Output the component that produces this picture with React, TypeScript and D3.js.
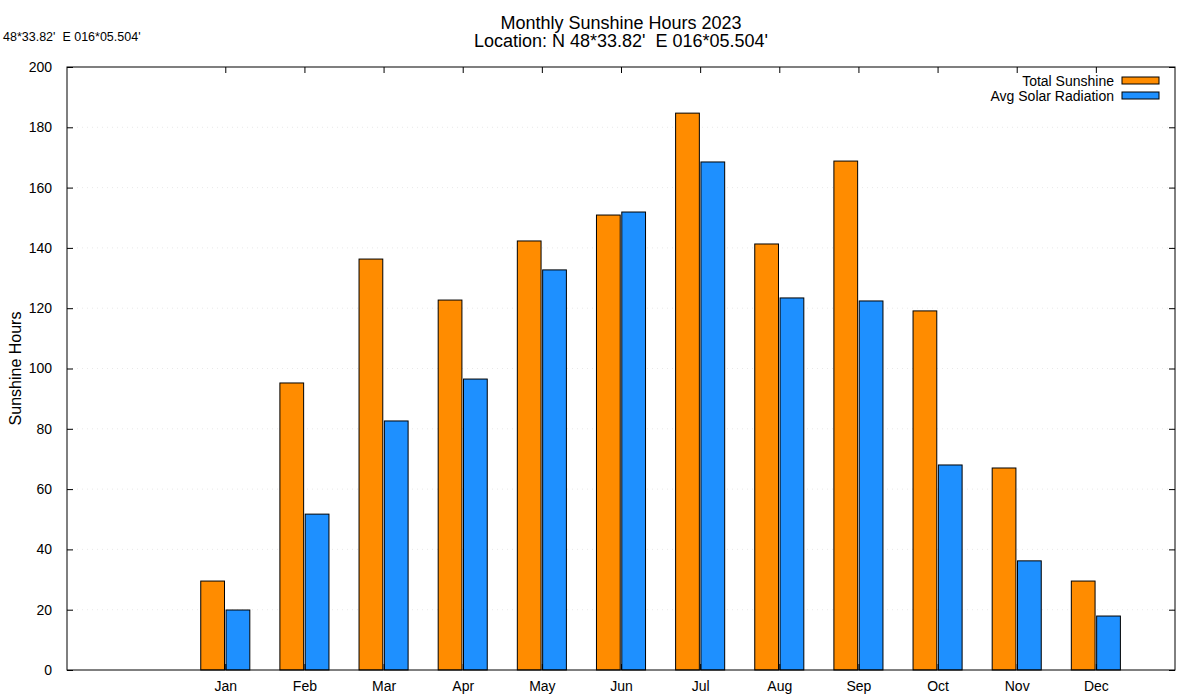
import { useEffect, useRef } from "react"
import * as d3 from "d3"

const months = ["Jan", "Feb", "Mar", "Apr", "May", "Jun", "Jul", "Aug", "Sep", "Oct", "Nov", "Dec"]
const totalSunshine = [29.5, 95.2, 136.3, 122.7, 142.3, 150.9, 184.7, 141.3, 168.8, 119.1, 67.0, 29.5]
const avgSolarRadiation = [19.9, 51.7, 82.6, 96.5, 132.7, 151.9, 168.5, 123.4, 122.4, 68.0, 36.2, 17.9]
const yTicks = [0, 20, 40, 60, 80, 100, 120, 140, 160, 180, 200]

const seriesNames = ["Total Sunshine", "Avg Solar Radiation"]
const seriesColors = ["#ff8c00", "#1e90ff"]

export default function App() {
  const svgRef = useRef<SVGSVGElement>(null)

  useEffect(() => {
    if (!svgRef.current) return
    const svg = d3.select(svgRef.current)
    svg.selectAll("*").remove()

    const width = 1200
    const height = 700
    const margin = { top: 67, right: 25, bottom: 30, left: 67 }
    const innerWidth = width - margin.left - margin.right
    const innerHeight = height - margin.top - margin.bottom
    const font = "'Liberation Sans', Arial, Helvetica, sans-serif"

    const g = svg.append("g").attr("transform", `translate(${margin.left},${margin.top})`)

    // month positions 1..12 on a linear axis like gnuplot's xrange [-1:13]
    const x = d3.scaleLinear().domain([-1, 13]).range([0, innerWidth])
    const y = d3.scaleLinear().domain([0, 200]).range([innerHeight, 0])

    const boxWidth = 0.3
    const offsets = [-0.16, 0.16]

    // grid
    g.append("g")
      .selectAll("line")
      .data(yTicks.slice(1, -1))
      .join("line")
      .attr("x1", 0)
      .attr("x2", innerWidth)
      .attr("y1", (d) => y(d))
      .attr("y2", (d) => y(d))
      .attr("stroke", "#e2e2e2")
      .attr("stroke-width", 0.8)
      .attr("stroke-dasharray", "1,4")

    // bars
    const seriesData = [totalSunshine, avgSolarRadiation]
    seriesData.forEach((values, si) => {
      g.append("g")
        .selectAll("rect")
        .data(values)
        .join("rect")
        .attr("x", (_, i) => x(i + 1 + offsets[si] - boxWidth / 2))
        .attr("y", (d) => y(d))
        .attr("width", x(boxWidth) - x(0))
        .attr("height", (d) => innerHeight - y(d))
        .attr("fill", seriesColors[si])
        .attr("stroke", "#000")
        .attr("stroke-width", 1)
    })

    const monthTicks = months.map((_, i) => i + 1)

    // axes, gnuplot style: inward ticks, mirrored
    const styleAxis = (sel: d3.Selection<SVGGElement, unknown, null, undefined>) => {
      sel.select(".domain").remove()
      sel.selectAll("line").attr("stroke", "#000")
      sel.selectAll("text").style("font-family", font).style("font-size", "14px").attr("fill", "#000")
    }

    g.append("g")
      .attr("transform", `translate(0,${innerHeight})`)
      .call(
        d3
          .axisBottom(x)
          .tickValues(monthTicks)
          .tickSize(-6)
          .tickPadding(11)
          .tickFormat((d) => months[(d as number) - 1]),
      )
      .call(styleAxis)

    g.append("g")
      .call(d3.axisTop(x).tickValues(monthTicks).tickSize(-6).tickFormat(() => ""))
      .call(styleAxis)

    g.append("g")
      .call(d3.axisLeft(y).tickValues(yTicks).tickSize(-6).tickPadding(15).tickFormat(d3.format("d")))
      .call(styleAxis)

    g.append("g")
      .attr("transform", `translate(${innerWidth},0)`)
      .call(d3.axisRight(y).tickValues(yTicks).tickSize(-6).tickFormat(() => ""))
      .call(styleAxis)

    // border
    g.append("rect")
      .attr("width", innerWidth)
      .attr("height", innerHeight)
      .attr("fill", "none")
      .attr("stroke", "#000")
      .attr("stroke-width", 1)

    // y label
    svg
      .append("text")
      .attr("transform", `translate(21,${margin.top + innerHeight / 2}) rotate(-90)`)
      .attr("text-anchor", "middle")
      .style("font-family", font)
      .style("font-size", "16px")
      .text("Sunshine Hours")

    // title
    const title = svg
      .append("text")
      .attr("text-anchor", "middle")
      .attr("xml:space", "preserve")
      .style("white-space", "pre")
      .style("font-family", font)
      .style("font-size", "18px")
    title.append("tspan").attr("x", 621).attr("y", 29).text("Monthly Sunshine Hours 2023")
    title.append("tspan").attr("x", 621).attr("y", 47).text("Location: N 48*33.82'  E 016*05.504'")

    svg
      .append("text")
      .attr("x", 3)
      .attr("y", 41)
      .attr("xml:space", "preserve")
      .style("white-space", "pre")
      .style("font-family", font)
      .style("font-size", "12.5px")
      .text("48*33.82'  E 016*05.504'")

    // legend
    const legend = svg.append("g").attr("transform", `translate(1122,77)`)
    seriesNames.forEach((name, i) => {
      const row = legend.append("g").attr("transform", `translate(0,${i * 15})`)
      row
        .append("rect")
        .attr("width", 37)
        .attr("height", 7)
        .attr("fill", seriesColors[i])
        .attr("stroke", "#000")
      row
        .append("text")
        .attr("x", -8)
        .attr("y", 8.5)
        .attr("text-anchor", "end")
        .style("font-family", font)
        .style("font-size", "14px")
        .text(name)
    })
  }, [])

  return (
    <svg
      ref={svgRef}
      width={1200}
      height={700}
      style={{ position: "absolute", left: 0, top: 0, background: "#fff" }}
    />
  )
}
